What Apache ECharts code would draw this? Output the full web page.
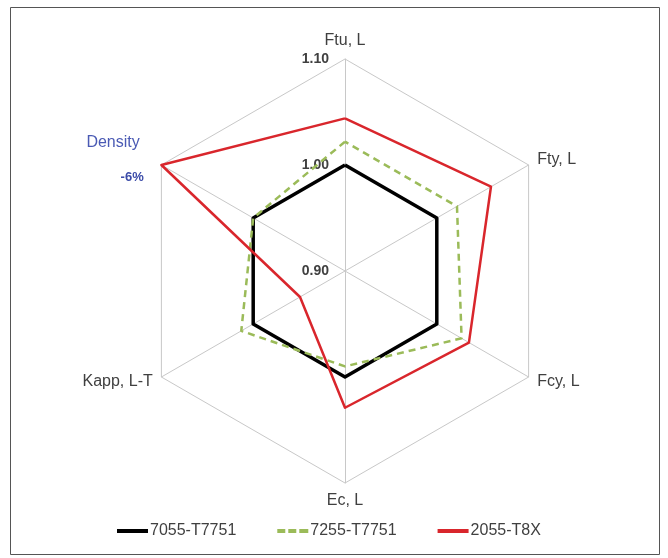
<!DOCTYPE html>
<html>
<head>
<meta charset="utf-8">
<script src="https://cdn.jsdelivr.net/npm/echarts@6/dist/echarts.min.js"></script>
<style>
html,body{margin:0;padding:0;background:#fff;}
#chart{width:668px;height:558px;}
</style>
</head>
<body>
<div id="chart"></div>
<script>
// Indicators in ECharts drawing order (counter-clockwise from top)
var categories = ['Ftu, L', 'Density', 'Kapp, L-T', 'Ec, L', 'Fcy, L', 'Fty, L'];
var seriesNames = ['7055-T7751', '7255-T7751', '2055-T8X'];
var s7055 = [1.00, 1.00, 1.00, 1.00, 1.00, 1.00];
var s7255 = [1.022, 1.00, 1.013, 0.990, 1.027, 1.022];
var s2055 = [1.044, 1.10, 0.949, 1.029, 1.035, 1.059];
var axisMin = 0.90, axisMax = 1.10, axisSplit = 2;
var densityNote = '-6%';

var chart = echarts.init(document.getElementById('chart'));
var font = '"Liberation Sans", Arial, sans-serif';

var indicators = categories.map(function (c, i) {
  var ind = { name: c, min: axisMin, max: axisMax };
  if (i === 0) {
    ind.axisLabel = {
      show: true, color: '#404040', fontWeight: 'bold', fontSize: 14, fontFamily: font, margin: 16,
      formatter: function (v) { return v.toFixed(2); }
    };
  }
  return ind;
});

var solidIcon = 'path://M0,0h31v4h-31z';
var thinIcon = 'path://M0,0h31v3h-31z';
var dashIcon = 'path://M0,0h8v3h-8z M11,0h8v3h-8z M22,0h9v3h-9z';

chart.setOption({
  animation: false,
  backgroundColor: '#fff',
  graphic: [{
    type: 'rect', shape: { x: 10.5, y: 7.5, width: 649, height: 547 },
    style: { fill: 'none', stroke: '#555', lineWidth: 1 }, silent: true
  }],
  legend: {
    top: 518, left: 112, itemGap: 41, itemWidth: 31, itemHeight: 4,
    symbolKeepAspect: false,
    textStyle: { fontSize: 16, color: '#404040', fontFamily: font, padding: [0, 0, 0, -3] },
    data: [
      { name: seriesNames[0], icon: solidIcon, itemStyle: { color: '#000' } },
      { name: seriesNames[1], icon: dashIcon, itemStyle: { color: '#9bbb59' } },
      { name: seriesNames[2], icon: thinIcon, itemStyle: { color: '#d9262c' } }
    ]
  },
  radar: {
    center: [345, 271],
    radius: 212,
    startAngle: 90,
    shape: 'polygon',
    splitNumber: axisSplit,
    indicator: indicators,
    nameGap: 10,
    axisName: {
      color: '#404040', fontSize: 16, fontFamily: font,
      formatter: function (name) {
        if (name === 'Density') return '{d|Density}\n{n|' + densityNote + '}\n{e| }';
        return name;
      },
      rich: {
        d: { color: '#4a5ab4', fontSize: 16, fontFamily: font, lineHeight: 48, align: 'right', padding: [0, 13, 0, 0] },
        n: { color: '#3b4ba8', fontSize: 13, fontWeight: 'bold', fontFamily: font, lineHeight: 20, align: 'right', padding: [0, 9, 0, 0] },
        e: { fontSize: 10, lineHeight: 14 }
      }
    },
    axisLabel: { show: false },
    axisLine: { lineStyle: { color: '#c8c8c8', width: 1 } },
    splitLine: { lineStyle: { color: ['rgba(0,0,0,0)', 'rgba(0,0,0,0)', '#c8c8c8'], width: 1 } },
    splitArea: { show: false }
  },
  series: [{
    type: 'radar',
    symbol: 'none',
    data: [
      { name: seriesNames[0], value: s7055, lineStyle: { color: '#000', width: 3.5 }, itemStyle: { color: '#000' } },
      { name: seriesNames[1], value: s7255, lineStyle: { color: '#9bbb59', width: 2.5, type: [7, 5] }, itemStyle: { color: '#9bbb59' } },
      { name: seriesNames[2], value: s2055, lineStyle: { color: '#d9262c', width: 2.5 }, itemStyle: { color: '#d9262c' } }
    ]
  }]
});
</script>
</body>
</html>
